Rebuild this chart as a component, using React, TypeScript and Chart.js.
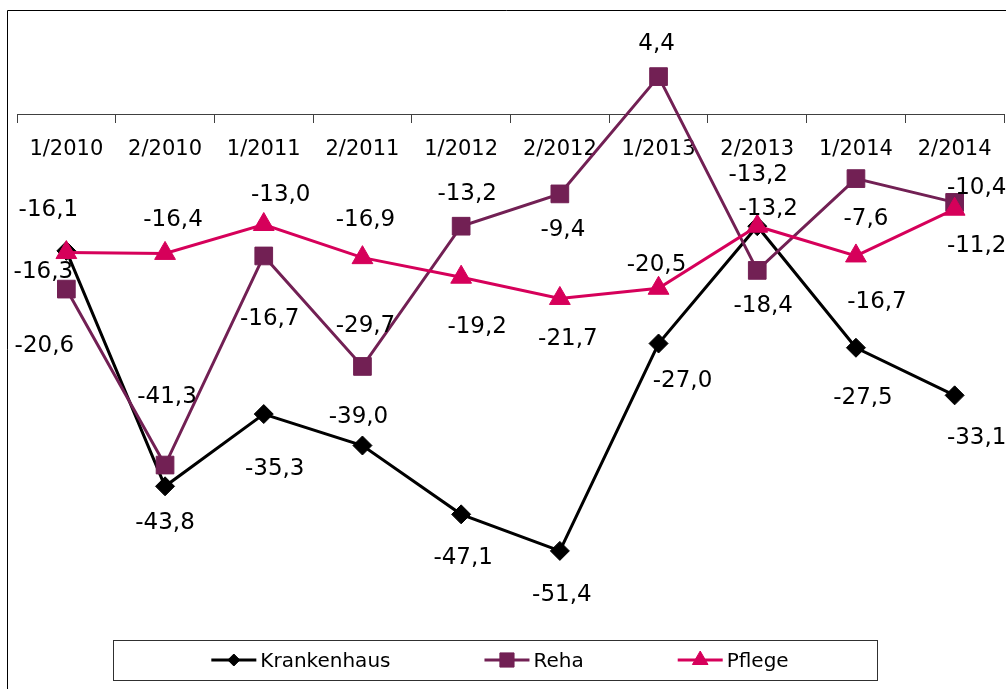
import React, { useEffect, useRef } from 'react';
import { Chart, registerables, PointElement } from 'chart.js';

Chart.register(...registerables);

// ---- data ----
const categories = ['1/2010', '2/2010', '1/2011', '2/2011', '1/2012', '2/2012', '1/2013', '2/2013', '1/2014', '2/2014'];
const krankenhaus = [-16.1, -43.8, -35.3, -39.0, -47.1, -51.4, -27.0, -13.2, -27.5, -33.1];
const reha = [-20.6, -41.3, -16.7, -29.7, -13.2, -9.4, 4.4, -18.4, -7.6, -10.4];
const pflege = [-16.3, -16.4, -13.0, -16.9, -19.2, -21.7, -20.5, -13.2, -16.7, -11.2];
const seriesNames = ['Krankenhaus', 'Reha', 'Pflege'];
const yMin = -60;
const yMax = 10;

// ---- styles ----
const FONT = 'DejaVu Sans';
const AXIS = '#404040';
const COLORS = ['#000000', '#722054', '#D6005A'];
const POINT_STYLES = ['rectRot', 'rect', 'triangle'];
const POINT_RADII = [9.5, 12.5, 12];
const LEGEND_RADII = [6, 10, 9];

// data-label offsets (dx, dy) from each point, in pixels
const labelOffsetsK = [[-18, -43], [0, 34], [11, 53], [-4, -31], [2, 41], [2, 42], [24, 35], [1, -54], [7, 48], [22, 40]];
const labelOffsetsR = [[-22, 55], [2, -70], [6, 61], [3, -43], [6, -35], [3, 34], [-2, -35], [6, 33], [10, 38], [22, -17]];
const labelOffsetsP = [[-23, 17], [8, -36], [17, -32], [3, -40], [16, 47], [8, 38], [-2, -26], [11, -20], [21, 44], [22, 34]];
const labelOffsets = [labelOffsetsK, labelOffsetsR, labelOffsetsP];

const fmt = (v: number) => v.toFixed(1).replace('.', ',');

const framePlugin = {
  id: 'frame',
  beforeDraw(chart: any) {
    const ctx = chart.ctx;
    ctx.save();
    ctx.fillStyle = '#ffffff';
    ctx.fillRect(0, 0, chart.width, chart.height);
    ctx.strokeStyle = '#000000';
    ctx.lineWidth = 1;
    ctx.beginPath();
    ctx.moveTo(7.5, chart.height);
    ctx.lineTo(7.5, 10.5);
    ctx.lineTo(chart.width, 10.5);
    ctx.stroke();
    ctx.restore();
  },
};

const dataLabelPlugin = {
  id: 'dataLabels',
  afterDatasetsDraw(chart: any) {
    const ctx = chart.ctx;
    const size = 23;
    ctx.save();
    ctx.font = `${size}px "${FONT}"`;
    ctx.fillStyle = '#000000';
    ctx.textAlign = 'center';
    ctx.textBaseline = 'alphabetic';
    chart.data.datasets.forEach((ds: any, di: number) => {
      const meta = chart.getDatasetMeta(di);
      meta.data.forEach((pt: any, i: number) => {
        const [dx, dy] = labelOffsets[di][i];
        ctx.fillText(fmt(ds.data[i]), pt.x + dx, pt.y + dy + size * 0.3645);
      });
    });
    ctx.restore();
  },
};

const legendPlugin = {
  id: 'boxLegend',
  afterDraw(chart: any) {
    const ctx = chart.ctx;
    const size = 20;
    const cy = 660;
    const symW = 45;
    const gapText = 4;
    const gapItem = 94;
    ctx.save();
    ctx.font = `${size}px "${FONT}"`;
    const widths = chart.data.datasets.map((ds: any) => ctx.measureText(ds.label).width);
    const total = widths.reduce((a: number, w: number) => a + symW + gapText + w, 0) + gapItem * (widths.length - 1);
    ctx.strokeStyle = '#303030';
    ctx.lineWidth = 1;
    ctx.strokeRect(113.5, 640.5, 764, 40);
    let x = 500 - total / 2;
    chart.data.datasets.forEach((ds: any, di: number) => {
      ctx.strokeStyle = ds.borderColor;
      ctx.lineWidth = 3;
      ctx.beginPath();
      ctx.moveTo(x, cy);
      ctx.lineTo(x + symW, cy);
      ctx.stroke();
      const p: any = new PointElement({});
      p.x = x + symW / 2;
      p.y = cy;
      p.skip = false;
      p.options = {
        pointStyle: POINT_STYLES[di],
        radius: LEGEND_RADII[di],
        rotation: 0,
        backgroundColor: ds.backgroundColor,
        borderColor: ds.borderColor,
        borderWidth: 1,
      };
      p.draw(ctx);
      ctx.fillStyle = '#000000';
      ctx.textAlign = 'left';
      ctx.textBaseline = 'alphabetic';
      ctx.fillText(ds.label, x + symW + gapText, cy + size * 0.3645);
      x += symW + gapText + widths[di] + gapItem;
    });
    ctx.restore();
  },
};

export default function App() {
  const canvasRef = useRef<HTMLCanvasElement | null>(null);

  useEffect(() => {
    if (!canvasRef.current) return;
    Chart.defaults.font.family = FONT;
    const seriesData = [krankenhaus, reha, pflege];
    const chart = new Chart(canvasRef.current, {
      type: 'line',
      data: {
        labels: categories,
        datasets: seriesData.map((d, i) => ({
          label: seriesNames[i],
          data: d,
          borderColor: COLORS[i],
          backgroundColor: COLORS[i],
          borderWidth: 3,
          pointStyle: POINT_STYLES[i],
          pointRadius: POINT_RADII[i],
          pointHoverRadius: POINT_RADII[i],
          pointBorderWidth: 1,
          pointBorderColor: COLORS[i],
          pointBackgroundColor: COLORS[i],
          tension: 0,
          fill: false,
          order: 3 - i,
        })),
      },
      options: {
        animation: false,
        responsive: false,
        maintainAspectRatio: false,
        layout: { autoPadding: false, padding: { left: 17, right: 2, top: 29, bottom: 65 } },
        plugins: {
          legend: { display: false },
          tooltip: { enabled: false },
        },
        scales: {
          x: {
            type: 'category',
            position: { y: 0 } as any,
            offset: true,
            afterFit: (scale: any) => {
              scale.paddingLeft = 0;
              scale.paddingRight = 0;
            },
            grid: {
              display: true,
              drawOnChartArea: false,
              drawTicks: true,
              tickLength: 8,
              offset: true,
              color: AXIS,
              lineWidth: 1,
            },
            border: { display: true, color: AXIS, width: 1 },
            ticks: {
              color: '#000000',
              font: { family: FONT, size: 21 },
              padding: 15,
              maxRotation: 0,
              autoSkip: false,
            },
          },
          y: {
            display: false,
            min: yMin,
            max: yMax,
          },
        },
      },
      plugins: [framePlugin, dataLabelPlugin, legendPlugin],
    });
    return () => chart.destroy();
  }, []);

  return (
    <div style={{ position: 'absolute', left: 0, top: 0, width: 1006, height: 689, background: '#fff', overflow: 'hidden' }}>
      <canvas ref={canvasRef} width={1006} height={689} style={{ display: 'block', width: 1006, height: 689 }} />
    </div>
  );
}
